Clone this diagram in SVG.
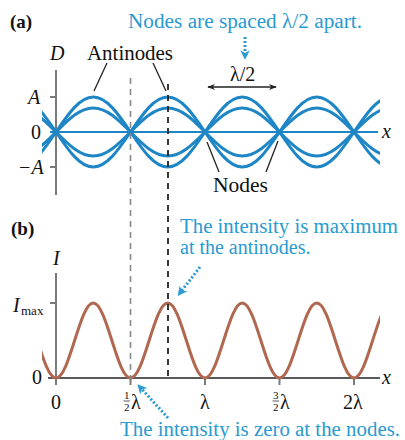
<svg xmlns="http://www.w3.org/2000/svg" xmlns:xlink="http://www.w3.org/1999/xlink" width="405" height="440" viewBox="0 0 405 440" font-family="'Liberation Serif', 'DejaVu Serif', serif">
<style>
text{font-family:'Liberation Serif','DejaVu Serif',serif;fill:#111}
.lbl{font-size:20px}
.it{font-style:italic}
.bl{fill:#2a9ad0;font-size:20px}
.bold{font-weight:bold;font-size:19px}
.small{font-size:11px}
.wave{fill:none;stroke:#1f86c6;stroke-width:3;stroke-linecap:round}
.int{fill:none;stroke:#b06850;stroke-width:3}
.axis{stroke:#7a7a7a;stroke-width:2;fill:none}
.lead{stroke:#222;stroke-width:1.3;fill:none}
.dot{stroke:#2a9ad0;stroke-width:3;stroke-dasharray:2,2;fill:none}
</style>
<defs>
<clipPath id="clipA" clipPathUnits="userSpaceOnUse"><rect x="42" y="50" width="338" height="160"/></clipPath>
<clipPath id="clipB" clipPathUnits="userSpaceOnUse"><rect x="42" y="280" width="338" height="110"/></clipPath>
<path id="w35" d="M-18.5,0 c12.45,18.38 23.78,35 37.25,35 c13.47,0 24.8,-16.62 37.25,-35 c12.45,-18.38 23.78,-35 37.25,-35 c13.47,0 24.8,16.62 37.25,35 c12.45,18.38 23.78,35 37.25,35 c13.47,0 24.8,-16.62 37.25,-35 c12.45,-18.38 23.78,-35 37.25,-35 c13.47,0 24.8,16.62 37.25,35 c12.45,18.38 23.78,35 37.25,35 c13.47,0 24.8,-16.62 37.25,-35 c12.45,-18.38 23.78,-35 37.25,-35 c13.47,0 24.8,16.62 37.25,35"/>
<path id="w24" d="M-18.5,0 c12.45,12.6 23.78,24 37.25,24 c13.47,0 24.8,-11.4 37.25,-24 c12.45,-12.6 23.78,-24 37.25,-24 c13.47,0 24.8,11.4 37.25,24 c12.45,12.6 23.78,24 37.25,24 c13.47,0 24.8,-11.4 37.25,-24 c12.45,-12.6 23.78,-24 37.25,-24 c13.47,0 24.8,11.4 37.25,24 c12.45,12.6 23.78,24 37.25,24 c13.47,0 24.8,-11.4 37.25,-24 c12.45,-12.6 23.78,-24 37.25,-24 c13.47,0 24.8,11.4 37.25,24"/>
<marker id="ah" viewBox="0 0 10 10" refX="9" refY="5" markerWidth="6" markerHeight="6" orient="auto-start-reverse"><path d="M0,1 L10,5 L0,9 L3,5 Z" fill="#222"/></marker>
<marker id="bh" viewBox="0 0 10 10" refX="6" refY="5" markerWidth="3.2" markerHeight="3.2" orient="auto"><path d="M0,0 L10,5 L0,10 L3,5 Z" fill="#2a9ad0"/></marker>
</defs>

<rect width="405" height="440" fill="#fff"/>

<!-- Panel (a) -->
<g id="panel-a">
<text class="bold" x="10" y="28">(a)</text>
<g id="axis-a">
<line class="axis" x1="56" y1="70" x2="56" y2="195"/>
<line class="axis" x1="50" y1="97" x2="56" y2="97"/>
<line class="axis" x1="50" y1="132" x2="56" y2="132"/>
<line class="axis" x1="50" y1="167" x2="56" y2="167"/>
<line x1="50" y1="132" x2="378" y2="132" stroke="#1f86c6" stroke-width="2"/>
<text class="lbl it" x="50" y="60">D</text>
<text class="lbl it" x="28" y="104">A</text>
<text class="lbl" x="31" y="139">0</text>
<text class="lbl it" x="18" y="174">−A</text>
<text class="lbl it" x="382" y="138">x</text>
</g>
<g id="waves" clip-path="url(#clipA)">
<use xlink:href="#w35" class="wave" transform="translate(0,132)"/>
<use xlink:href="#w35" class="wave" transform="translate(0,132) scale(1,-1)"/>
<use xlink:href="#w24" class="wave" transform="translate(0,132)"/>
<use xlink:href="#w24" class="wave" transform="translate(0,132) scale(1,-1)"/>
</g>
</g>

<!-- Panel (b) -->
<g id="panel-b">
<text class="bold" x="11" y="235">(b)</text>
<g id="axis-b">
<line class="axis" x1="56" y1="273" x2="56" y2="385"/>
<line class="axis" x1="50" y1="303" x2="56" y2="303"/>
<line class="axis" x1="130.5" y1="378" x2="130.5" y2="385"/>
<line class="axis" x1="205" y1="378" x2="205" y2="385"/>
<line class="axis" x1="279.5" y1="378" x2="279.5" y2="385"/>
<line class="axis" x1="354" y1="378" x2="354" y2="385"/>
<line x1="48" y1="378" x2="380" y2="378" stroke="#222" stroke-width="1.6"/>
<text class="lbl it" x="53" y="265">I</text>
<text class="lbl it" x="13" y="312">I</text>
<text class="small" x="21" y="315" style="font-size:13px">max</text>
<text class="lbl" x="32" y="384">0</text>
<text class="lbl it" x="382" y="384">x</text>
<text class="lbl" x="51" y="409">0</text>
<g id="tick-half">
<text class="small" x="124" y="399">1</text>
<line x1="123.5" y1="401" x2="130" y2="401" stroke="#333" stroke-width="0.8"/>
<text class="small" x="124" y="411">2</text>
<text class="lbl" x="131" y="409">λ</text>
</g>
<text class="lbl" x="200" y="409">λ</text>
<g id="tick-3half">
<text class="small" x="273" y="399">3</text>
<line x1="272.5" y1="401" x2="279" y2="401" stroke="#333" stroke-width="0.8"/>
<text class="small" x="273" y="411">2</text>
<text class="lbl" x="280" y="409">λ</text>
</g>
<text class="lbl" x="343" y="409">2λ</text>
</g>
<g id="intensity" clip-path="url(#clipB)">
<path class="int" d="M-18.5,378 c6.737,0 12.4,-17.81 18.625,-37.5 c6.226,-19.69 11.888,-37.5 18.625,-37.5 c6.737,0 12.4,17.81 18.625,37.5 c6.226,19.69 11.888,37.5 18.625,37.5 c6.737,0 12.4,-17.81 18.625,-37.5 c6.226,-19.69 11.888,-37.5 18.625,-37.5 c6.737,0 12.4,17.81 18.625,37.5 c6.226,19.69 11.888,37.5 18.625,37.5 c6.737,0 12.4,-17.81 18.625,-37.5 c6.226,-19.69 11.888,-37.5 18.625,-37.5 c6.737,0 12.4,17.81 18.625,37.5 c6.226,19.69 11.888,37.5 18.625,37.5 c6.737,0 12.4,-17.81 18.625,-37.5 c6.226,-19.69 11.888,-37.5 18.625,-37.5 c6.737,0 12.4,17.81 18.625,37.5 c6.226,19.69 11.888,37.5 18.625,37.5 c6.737,0 12.4,-17.81 18.625,-37.5 c6.226,-19.69 11.888,-37.5 18.625,-37.5 c6.737,0 12.4,17.81 18.625,37.5 c6.226,19.69 11.888,37.5 18.625,37.5 c6.737,0 12.4,-17.81 18.625,-37.5 c6.226,-19.69 11.888,-37.5 18.625,-37.5 c6.737,0 12.4,17.81 18.625,37.5 c6.226,19.69 11.888,37.5 18.625,37.5"/>
</g>
</g>

<!-- Labels -->
<g id="label-nodes-spaced">
<text class="bl" x="128" y="28" textLength="234" lengthAdjust="spacingAndGlyphs">Nodes are spaced λ/2 apart.</text>
</g>
<g id="label-antinodes">
<text class="lbl" x="87" y="60" textLength="86" lengthAdjust="spacingAndGlyphs">Antinodes</text>
</g>
<g id="label-lambda2">
<text class="lbl" x="230" y="81">λ/2</text>
</g>
<g id="label-nodes">
<text class="lbl" x="213" y="192" textLength="55" lengthAdjust="spacingAndGlyphs">Nodes</text>
</g>
<g id="label-max">
<text class="bl" x="180" y="233" textLength="218" lengthAdjust="spacingAndGlyphs">The intensity is maximum</text>
<text class="bl" x="180" y="254">at the antinodes.</text>
</g>
<g id="label-zero">
<text class="bl" x="120" y="436" textLength="280" lengthAdjust="spacingAndGlyphs">The intensity is zero at the nodes.</text>
</g>

<!-- Connectors -->
<g id="connectors">
<line x1="130.5" y1="78" x2="130.5" y2="385" stroke="#888" stroke-width="1.6" stroke-dasharray="6,5"/>
<line x1="168" y1="84" x2="168" y2="378" stroke="#222" stroke-width="1.8" stroke-dasharray="6,5"/>
<line class="lead" x1="107" y1="63" x2="94" y2="91"/>
<line class="lead" x1="153" y1="63" x2="166" y2="91"/>
<line class="lead" x1="207" y1="142" x2="219" y2="172"/>
<line class="lead" x1="278" y1="141" x2="266" y2="172"/>
<line class="lead" x1="208" y1="87" x2="276" y2="87" marker-start="url(#ah)" marker-end="url(#ah)"/>
<line class="dot" x1="245" y1="37" x2="245" y2="56" marker-end="url(#bh)"/>
<line class="dot" x1="200" y1="267" x2="180" y2="293" marker-end="url(#bh)"/>
<line class="dot" x1="168" y1="418" x2="140" y2="387" marker-end="url(#bh)"/>
</g>
</svg>
